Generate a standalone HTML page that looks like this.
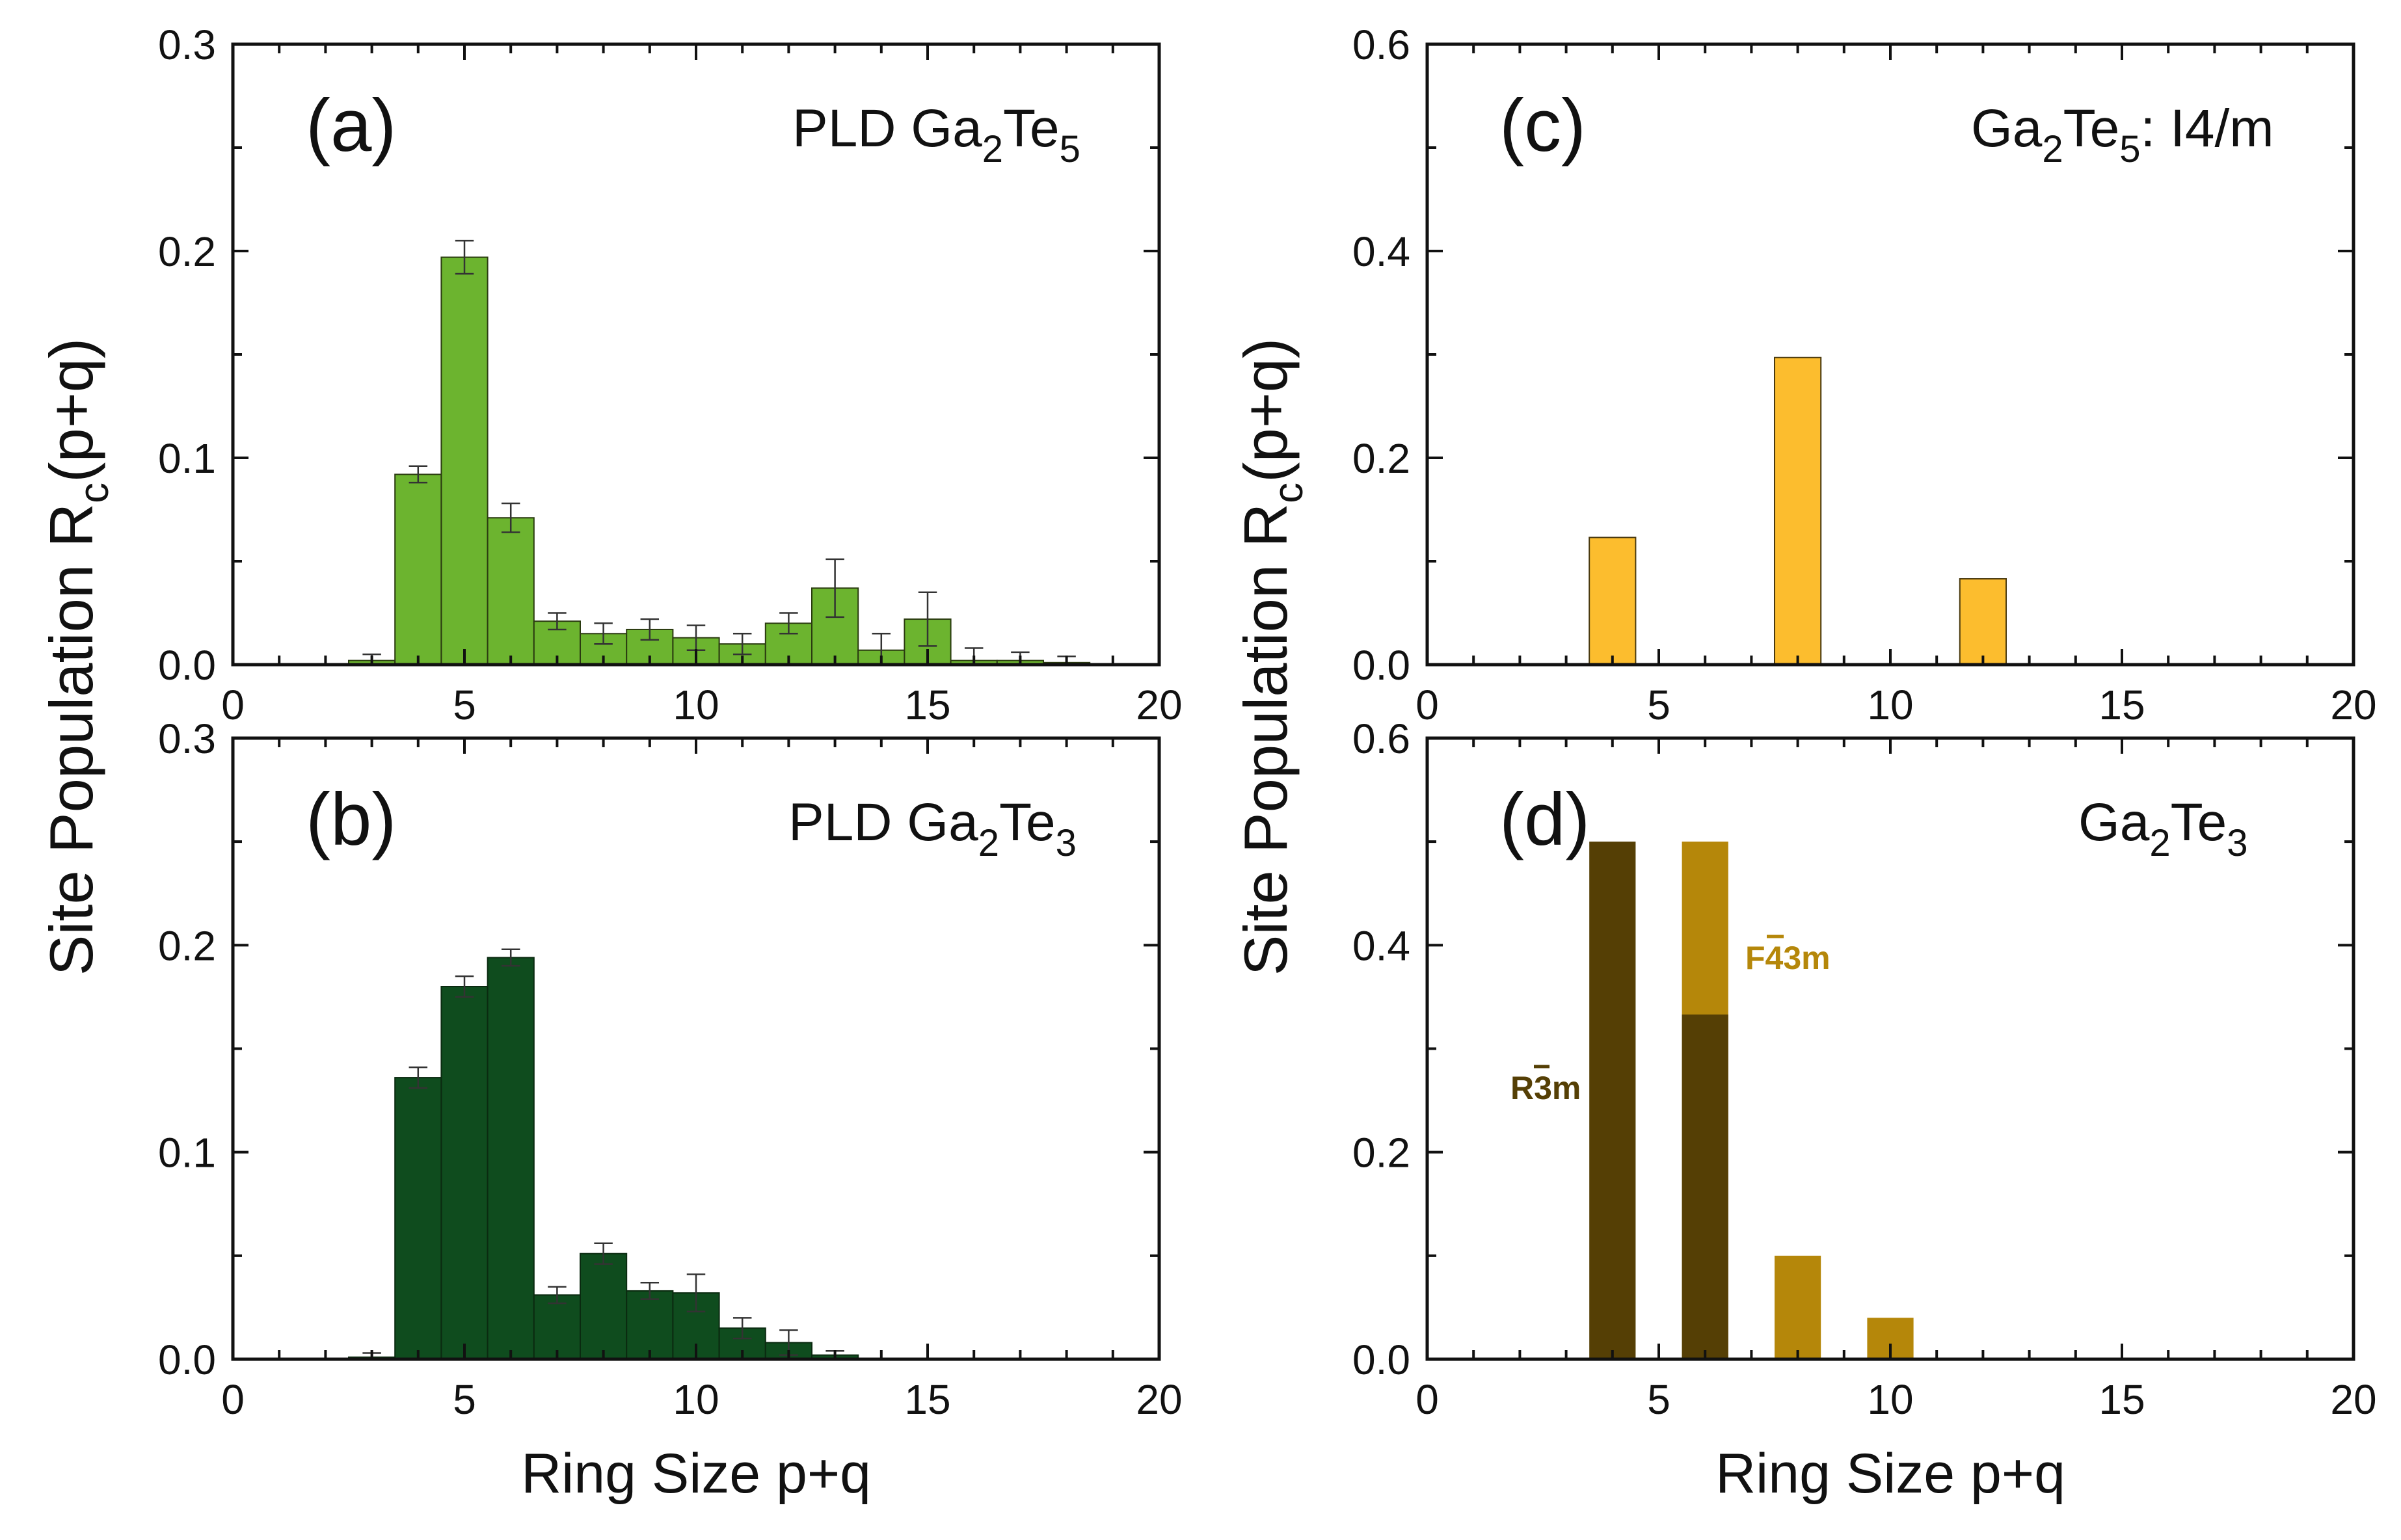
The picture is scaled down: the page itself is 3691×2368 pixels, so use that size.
<!DOCTYPE html>
<html><head><meta charset="utf-8"><style>
html,body{margin:0;padding:0;background:#fff;}
svg{display:block;}
text{font-family:"Liberation Sans",Arial,sans-serif;}
</style></head><body>
<svg id="fig" width="3691" height="2368" viewBox="0 0 3691 2368" xmlns="http://www.w3.org/2000/svg">
<g id="root"></g>
</svg>
<script>
// Panel (a) PLD Ga2Te5
const aSizes = [3,4,5,6,7,8,9,10,11,12,13,14,15,16,17,18];
const aValues = [0.002,0.092,0.197,0.071,0.021,0.015,0.017,0.013,0.010,0.020,0.037,0.007,0.022,0.002,0.002,0.001];
const aErrors = [0.003,0.004,0.008,0.007,0.004,0.005,0.005,0.006,0.005,0.005,0.014,0.008,0.013,0.006,0.004,0.003];
// Panel (b) PLD Ga2Te3
const bSizes = [3,4,5,6,7,8,9,10,11,12,13];
const bValues = [0.001,0.136,0.180,0.194,0.031,0.051,0.033,0.032,0.015,0.008,0.002];
const bErrors = [0.002,0.005,0.005,0.004,0.004,0.005,0.004,0.009,0.005,0.006,0.002];
// Panel (c) Ga2Te5 I4/m
const cSizes = [4,8,12];
const cValues = [0.123,0.297,0.083];
// Panel (d) Ga2Te3: F-43m totals and R-3m
const dF43mSizes = [6,8,10];
const dF43mValues = [0.5,0.1,0.04];
const dR3mSizes = [4,6];
const dR3mValues = [0.5,0.333];
const xTicks = [0,5,10,15,20];
const yTicksAB = ["0.0","0.1","0.2","0.3"];
const yTicksCD = ["0.0","0.2","0.4","0.6"];

const NS="http://www.w3.org/2000/svg";
const root=document.getElementById('root');
function mk(tag,attrs,parent){const e=document.createElementNS(NS,tag);for(const k in attrs)e.setAttribute(k,attrs[k]);(parent||root).appendChild(e);return e;}

const panels={
 a:{L:358,R:1782,T:68,B:1022,ymax:0.3,ymin:0.05,yt:yTicksAB},
 b:{L:358,R:1782,T:1135,B:2090,ymax:0.3,ymin:0.05,yt:yTicksAB},
 c:{L:2194,R:3618,T:68,B:1022,ymax:0.6,ymin:0.1,yt:yTicksCD},
 d:{L:2194,R:3618,T:1135,B:2090,ymax:0.6,ymin:0.1,yt:yTicksCD}
};
function xs(p,v){return p.L+(v/20)*(p.R-p.L);}
function ys(p,v){return p.B-(v/p.ymax)*(p.B-p.T);}

function bars(p,sizes,vals,fill,stroke,name,g){
 for(let i=0;i<sizes.length;i++){
  const x0=xs(p,sizes[i]-0.5),x1=xs(p,sizes[i]+0.5),y=ys(p,vals[i]);
  const r=mk('rect',{x:x0,y:y,width:x1-x0,height:p.B-y,fill:fill,stroke:stroke,'stroke-width':stroke==='none'?0:2},g);
  
  
 }
}
function errs(p,sizes,vals,errsA,name,g){
 for(let i=0;i<sizes.length;i++){
  const x=xs(p,sizes[i]),hw=(xs(p,0.2)-xs(p,0));
  const y1=ys(p,vals[i]+errsA[i]),y2=ys(p,Math.max(0,vals[i]-errsA[i]));
  const e=mk('path',{d:`M${x},${y1}V${y2}M${x-hw},${y1}H${x+hw}M${x-hw},${y2}H${x+hw}`,stroke:'#333','stroke-width':2.5,fill:'none'},g);
  
  
 }
}
function axes(key){
 const g=mk('g',{});
 
 
 return g;
}
function frame(key,g){
 const p=panels[key];
 let d='';
 for(let v=0;v<=20;v++){const x=xs(p,v);const len=v%5===0?24:14;d+=`M${x},${p.B}V${p.B-len}M${x},${p.T}V${p.T+len}`;}
 const n=Math.round(p.ymax/p.ymin);
 for(let k=0;k<=n;k++){const y=ys(p,k*p.ymin);const len=k%2===0?24:14;d+=`M${p.L},${y}H${p.L+len}M${p.R},${y}H${p.R-len}`;}
 mk('path',{d:d,stroke:'#111','stroke-width':4,fill:'none'},g);
 const fr=mk('rect',{x:p.L,y:p.T,width:p.R-p.L,height:p.B-p.T,fill:'none',stroke:'#111','stroke-width':5},g);
 
 
 xTicks.forEach(v=>{const t=mk('text',{x:xs(p,v),y:p.B+84,'font-size':64,'text-anchor':'middle',fill:'#111'},g);t.textContent=v;
  
  });
 p.yt.forEach((s,i)=>{const v=i*2*p.ymin;const t=mk('text',{x:p.L-26,y:ys(p,v)+23,'font-size':64,'text-anchor':'end',fill:'#111'},g);t.textContent=s;
  
  });
}

let g=axes('a');
bars(panels.a,aSizes,aValues,'#6cb42f','#2a3a10','bar-a',g);
errs(panels.a,aSizes,aValues,aErrors,'bar-a',g);
frame('a',g);
g=axes('b');
bars(panels.b,bSizes,bValues,'#0f4c1e','#0a2a10','bar-b',g);
errs(panels.b,bSizes,bValues,bErrors,'bar-b',g);
frame('b',g);
g=axes('c');
bars(panels.c,cSizes,cValues,'#fcbd2e','#4a3a10','bar-c',g);
frame('c',g);
g=axes('d');
bars(panels.d,dF43mSizes,dF43mValues,'#b5870a','none','bar-d-f43m',g);
bars(panels.d,dR3mSizes,dR3mValues,'#553f05','none','bar-d-r3m',g);
frame('d',g);
</script>
<svg width="3691" height="2368" viewBox="0 0 3691 2368" style="position:absolute;left:0;top:0;">
<g font-family="Liberation Sans, Arial, sans-serif" fill="#111">
<text x="470" y="232" font-size="114">(a)</text>
<text x="1218" y="225" font-size="82">PLD Ga<tspan dy="24" font-size="58">2</tspan><tspan dy="-24">Te</tspan><tspan dy="24" font-size="58">5</tspan></text>
<text x="470" y="1299" font-size="114">(b)</text>
<text x="1212" y="1292" font-size="82">PLD Ga<tspan dy="24" font-size="58">2</tspan><tspan dy="-24">Te</tspan><tspan dy="24" font-size="58">3</tspan></text>
<text x="2305" y="232" font-size="114">(c)</text>
<text x="3030" y="225" font-size="82">Ga<tspan dy="24" font-size="58">2</tspan><tspan dy="-24">Te</tspan><tspan dy="24" font-size="58">5</tspan><tspan dy="-24">: I4/m</tspan></text>
<text x="2305" y="1299" font-size="114">(d)</text>
<text x="3195" y="1292" font-size="82">Ga<tspan dy="24" font-size="58">2</tspan><tspan dy="-24">Te</tspan><tspan dy="24" font-size="58">3</tspan></text>
<text x="1070" y="2295" font-size="86" text-anchor="middle">Ring Size p+q</text>
<text x="2906" y="2295" font-size="86" text-anchor="middle">Ring Size p+q</text>
<text transform="translate(142,1010) rotate(-90)" font-size="94" text-anchor="middle">Site Population R<tspan dy="24" font-size="64">c</tspan><tspan dy="-24">(p+q)</tspan></text>
<text transform="translate(1978,1010) rotate(-90)" font-size="94" text-anchor="middle">Site Population R<tspan dy="24" font-size="64">c</tspan><tspan dy="-24">(p+q)</tspan></text>
<text x="2322" y="1690" font-size="50" font-weight="bold" fill="#553f05">R3m</text>
<line x1="2358" y1="1640" x2="2382" y2="1640" stroke="#553f05" stroke-width="5"/>
<text x="2683" y="1490" font-size="50" font-weight="bold" fill="#b5870a">F43m</text>
<line x1="2716" y1="1440" x2="2742" y2="1440" stroke="#b5870a" stroke-width="5"/>
</g>
</svg>
</body></html>
